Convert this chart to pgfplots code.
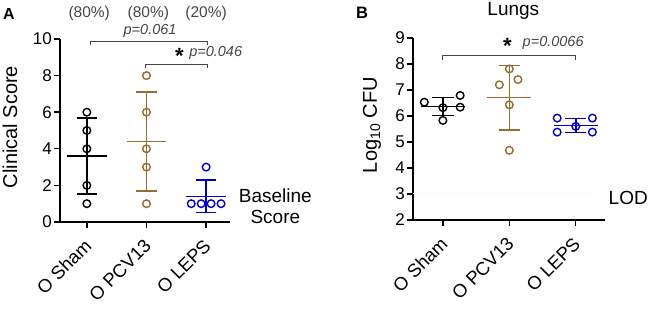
\documentclass[border=0pt]{standalone}
\usepackage{fontspec}
\setmainfont{Liberation Sans}
\usepackage{pgfplots}
\pgfplotsset{compat=1.18}
\definecolor{cbrown}{RGB}{150,108,48}
\definecolor{cblue}{RGB}{0,0,204}
\definecolor{cgray}{RGB}{70,70,70}
\newcommand{\fs}[1]{\fontsize{#1}{#1}\selectfont}
% color, x, mean-left, mean-right, cap-left, cap-right, lo, mean, hi
\newcommand{\msd}[9]{%
 \addplot[#1, line width=1.5pt] coordinates {(#2,#7) (#2,#9)};
 \addplot[#1, line width=1.5pt] coordinates {(#5,#7) (#6,#7)};
 \addplot[#1, line width=1.5pt] coordinates {(#5,#9) (#6,#9)};
 \addplot[#1, line width=1.6pt] coordinates {(#3,#8) (#4,#8)};
}
\pgfplotsset{
 mystyle/.style={
  scale only axis,
  axis x line*=bottom, axis y line*=left,
  axis line style={line width=1.4pt, -, black},
  every tick/.style={black, line width=1.4pt},
  tick align=outside, major tick length=6pt,
  xtick pos=left, ytick pos=left,
  xtick={0,1,2},
  xticklabels={O Sham, O PCV13, O LEPS},
  xticklabel style={xshift=2pt, yshift=-14pt, rotate=45, anchor=east, font=\fs{18.5}, inner sep=1pt},
  yticklabel style={font=\fs{17}, inner sep=2pt},
  /pgf/number format/assume math mode=true,
  clip=false,
  every axis plot/.append style={mark size=3.8pt},
 },
 pts/.style={only marks, mark=o, mark options={line width=1.4pt}},
}
\begin{document}
\begin{tikzpicture}
\useasboundingbox (0pt,0pt) rectangle (650pt,310pt);
% panel labels and axis titles
\node[font=\fs{16}\bfseries] at (9pt,296pt) {A};
\node[font=\fs{16.5}\bfseries] at (362pt,297pt) {B};
\node[font=\fs{20}, rotate=90] at (10pt,183pt) {Clinical Score};
\node[font=\fs{20}, rotate=90] at (372pt,185pt) {Log\textsubscript{10} CFU};

\begin{axis}[mystyle, at={(60pt,88pt)}, anchor=south west, width=170pt, height=183pt,
  xmin=-0.45, xmax=2.4, ymin=0, ymax=10, ytick={0,2,4,6,8,10}]
\addplot[pts, black] coordinates {(0,6) (0,5) (0,4) (0,2) (0,1)};
\addplot[pts, cbrown] coordinates {(1,8) (1,6) (1,4) (1,3) (1,1)};
\addplot[pts, cblue] coordinates {(2,3) (1.75,1) (1.917,1) (2.083,1) (2.25,1)};
\msd{black}{0}{-0.33}{0.33}{-0.17}{0.17}{1.526}{3.6}{5.674}
\msd{cbrown}{1}{0.67}{1.33}{0.83}{1.17}{1.698}{4.4}{7.102}
\msd{cblue}{2}{1.67}{2.33}{1.83}{2.17}{0.506}{1.4}{2.294}
\addplot[cgray, line width=1pt] coordinates {(0.06,9.67) (0.06,9.87) (2.03,9.87) (2.03,9.67)};
\addplot[cgray, line width=1pt] coordinates {(0.99,8.40) (0.99,8.62) (2.03,8.62) (2.03,8.40)};
\node[font=\fs{14.5}\itshape, text=cgray] at (axis cs:1.06,10.42) {p=0.061};
\node[font=\fs{22}\bfseries] at (axis cs:1.55,9.05) {*};
\node[font=\fs{14.5}\itshape, text=cgray] at (axis cs:2.16,9.22) {p=0.046};
\node[font=\fs{15.5}, text=cgray] at (axis cs:0.04,11.42) {(80\%)};
\node[font=\fs{15.5}, text=cgray] at (axis cs:1.03,11.42) {(80\%)};
\node[font=\fs{15.5}, text=cgray] at (axis cs:2.0,11.42) {(20\%)};
\node[font=\fs{19}, align=center, inner sep=0pt] at (axis cs:3.16,0.87) {Baseline\\[2pt]Score};
\end{axis}

\begin{axis}[mystyle, at={(413pt,90pt)}, anchor=south west, width=192pt, height=182pt,
  xmin=-0.45, xmax=2.44, ymin=2, ymax=9, ytick={2,3,4,5,6,7,8,9}]
\addplot[gray!12, line width=1pt, dotted] coordinates {(-0.45,3) (2.3,3)};
\addplot[pts, black] coordinates {(-0.28,6.53) (0,6.32) (0,5.83) (0.26,6.79) (0.26,6.34)};
\addplot[pts, cbrown] coordinates {(1,7.81) (1.13,7.40) (0.85,7.20) (1,6.43) (1,4.68)};
\addplot[pts, cblue] coordinates {(1.72,5.92) (2.25,5.92) (2,5.60) (1.72,5.38) (2.25,5.38)};
\msd{black}{0}{-0.33}{0.33}{-0.16}{0.16}{6.010}{6.362}{6.714}
\msd{cbrown}{1}{0.67}{1.33}{0.84}{1.16}{5.467}{6.704}{7.941}
\msd{cblue}{2}{1.67}{2.33}{1.84}{2.16}{5.369}{5.64}{5.911}
\addplot[cgray, line width=1pt] coordinates {(0,8.17) (0,8.34) (2,8.34) (2,8.17)};
\node[font=\fs{22}\bfseries] at (axis cs:0.97,8.68) {*};
\node[font=\fs{14.5}\itshape, text=cgray] at (axis cs:1.66,8.82) {p=0.0066};
\node[font=\fs{19}] at (axis cs:1.06,10.05) {Lungs};
\node[font=\fs{19}] at (axis cs:2.79,2.85) {LOD};
\end{axis}
\end{tikzpicture}
\end{document}
